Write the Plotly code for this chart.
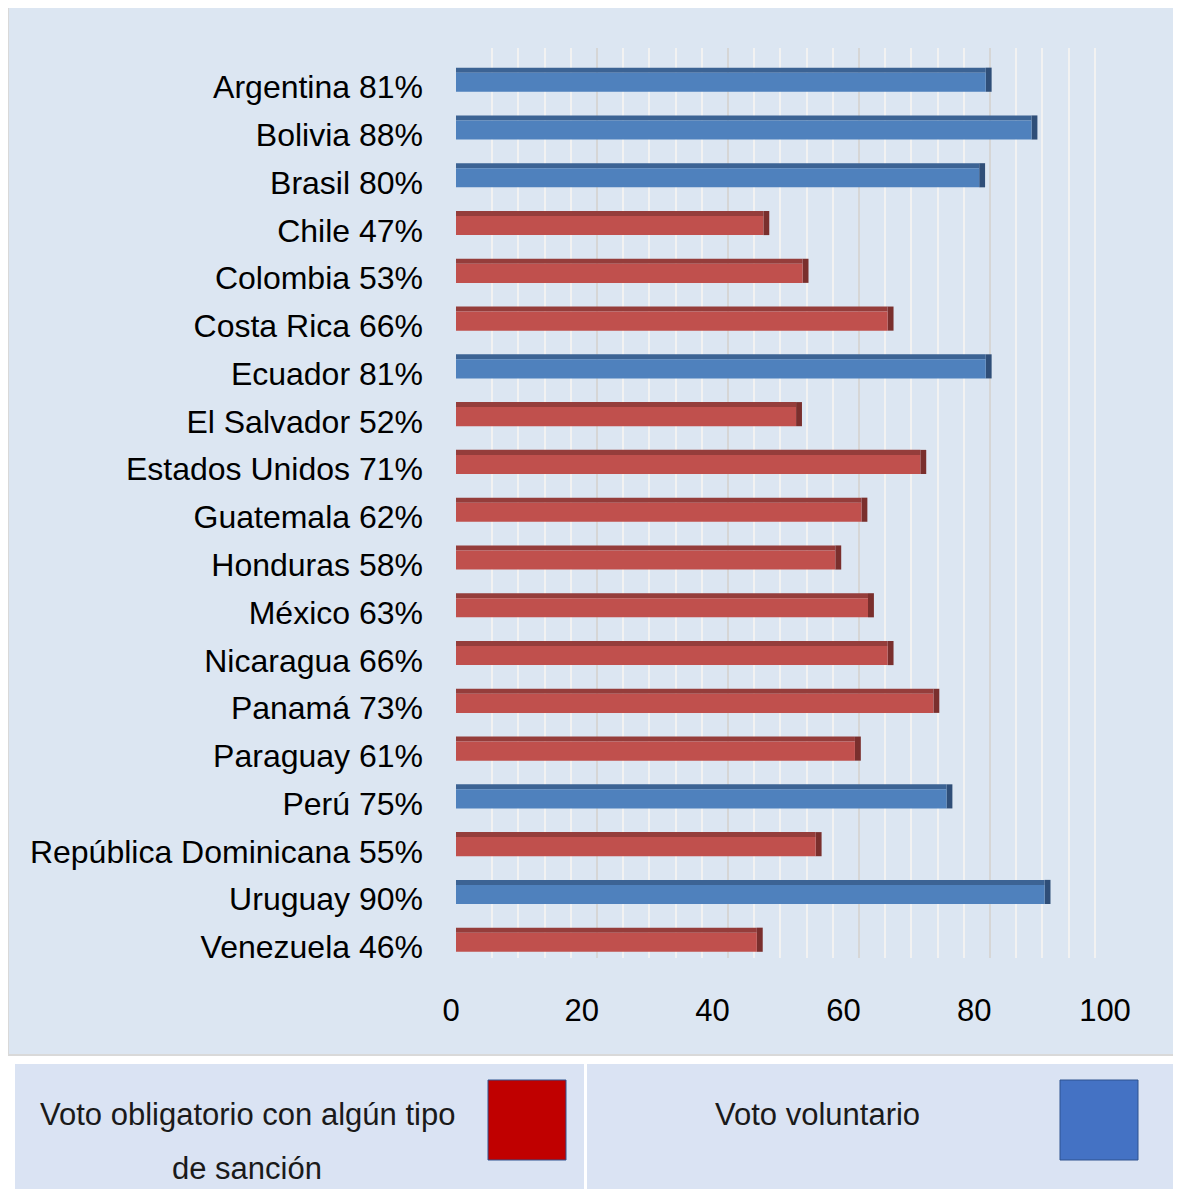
import plotly.graph_objects as go

# Data
countries = ['Argentina', 'Bolivia', 'Brasil', 'Chile', 'Colombia', 'Costa Rica',
             'Ecuador', 'El Salvador', 'Estados Unidos', 'Guatemala', 'Honduras',
             'México', 'Nicaragua', 'Panamá', 'Paraguay', 'Perú',
             'República Dominicana', 'Uruguay', 'Venezuela']
participation = [81, 88, 80, 47, 53, 66, 81, 52, 71, 62, 58, 63, 66, 73, 61, 75, 55, 90, 46]
vote_type = ['vol', 'vol', 'vol', 'obl', 'obl', 'obl', 'vol', 'obl', 'obl', 'obl',
             'obl', 'obl', 'obl', 'obl', 'obl', 'vol', 'obl', 'vol', 'obl']
legend_labels = {'obl': 'Voto obligatorio con algún tipo<br>de sanción',
                 'vol': 'Voto voluntario'}
x_ticks = [0, 20, 40, 60, 80, 100]

labels = [f'{c} {v}%' for c, v in zip(countries, participation)]

front = {'vol': '#4f81bd', 'obl': '#c0504d'}
top = {'vol': '#3c6394', 'obl': '#953d3b'}
side = {'vol': '#2f4e78', 'obl': '#7a2f2d'}

# page has an 8px body margin, so the figure is sized to fit the window
W, H = 1165, 1181
OFF = 8
FONT = 'Liberation Sans, Arial, sans-serif'


def px(x):
    return (x - OFF) / W


def py(y):
    return 1 - (y - OFF) / H


fig = go.Figure()

# helper so the back-wall grid subplot gets drawn
fig.add_trace(go.Scatter(x=[None], y=[None], xaxis='x', yaxis='y',
                         hoverinfo='skip', showlegend=False))

# side face (depth of the 3D bar)
fig.add_trace(go.Bar(
    y=labels, x=[0.9] * len(labels), base=participation, orientation='h',
    offset=-0.405, width=0.505,
    marker=dict(color=[side[t] for t in vote_type], line_width=0),
    xaxis='x2', yaxis='y2', hoverinfo='skip', showlegend=False,
))
# top face
fig.add_trace(go.Bar(
    y=labels, x=participation, orientation='h',
    offset=-0.405, width=0.105,
    marker=dict(color=[top[t] for t in vote_type], line_width=0),
    xaxis='x2', yaxis='y2', hoverinfo='skip', showlegend=False,
))
# front face
fig.add_trace(go.Bar(
    y=labels, x=participation, orientation='h',
    offset=-0.30, width=0.40,
    marker=dict(color=[front[t] for t in vote_type], line_width=0),
    xaxis='x2', yaxis='y2', showlegend=False,
    hovertemplate='%{y}<extra></extra>',
))

fig.update_layout(
    width=W, height=H,
    autosize=False,
    margin=dict(l=0, r=0, t=0, b=0, autoexpand=False),
    paper_bgcolor='white',
    plot_bgcolor='rgba(0,0,0,0)',
    barmode='overlay',
    font=dict(family=FONT, size=32, color='black'),
    # back wall gridlines (shifted right for the 3D depth)
    xaxis=dict(domain=[px(466), px(1121)], range=[0, 100], anchor='y',
               showgrid=True, dtick=20, gridcolor='#d6d6d6', gridwidth=2,
               minor=dict(dtick=4, showgrid=True, gridcolor='#f2f2f2', gridwidth=2),
               showticklabels=False, ticks='', zeroline=False, showline=False),
    yaxis=dict(domain=[py(958), py(48)], range=[0, 1], anchor='x',
               showgrid=False, showticklabels=False, ticks='',
               zeroline=False, showline=False),
    # bar axes
    xaxis2=dict(domain=[px(456), px(1110)], range=[0, 100], anchor='y2',
                showgrid=False, zeroline=False, showline=False,
                tickvals=x_ticks, ticks='', ticklabelshift=-5,
                ticklabelstandoff=18, tickfont=dict(size=31)),
    yaxis2=dict(domain=[py(970.9), py(63.1)], anchor='x2',
                autorange='reversed', showgrid=False, zeroline=False, showline=False,
                ticks='', ticklabelstandoff=32, tickfont=dict(size=32)),
)

# chart background + legend panels
fig.add_shape(type='rect', xref='paper', yref='paper', layer='below',
              x0=px(8), x1=1.01, y0=py(1055), y1=py(5),
              fillcolor='#dce6f2', line=dict(color='#d9d9d9', width=2))
fig.add_shape(type='rect', xref='paper', yref='paper', layer='below',
              x0=px(15), x1=px(584), y0=-0.01, y1=py(1064),
              fillcolor='#dae3f3', line_width=0)
fig.add_shape(type='rect', xref='paper', yref='paper', layer='below',
              x0=px(587), x1=1.01, y0=-0.01, y1=py(1064),
              fillcolor='#dae3f3', line_width=0)

# legend swatches and texts
legend_items = [('obl', '#c00000', 488, 247), ('vol', '#4472c4', 1060, 817)]
for key, color, sx, tx in legend_items:
    fig.add_shape(type='rect', xref='paper', yref='paper',
                  x0=px(sx), x1=px(sx + 78), y0=py(1160), y1=py(1080),
                  fillcolor=color, line=dict(color='#2f528f', width=1))
    parts = legend_labels[key].split('<br>')
    for i, part in enumerate(parts):
        fig.add_annotation(xref='paper', yref='paper', x=px(tx),
                           y=py(1114 + 54 * i), text=part, showarrow=False,
                           xanchor='center', yanchor='middle',
                           font=dict(family=FONT, size=31, color='#1a1a1a'))

fig.write_html('out.html')
